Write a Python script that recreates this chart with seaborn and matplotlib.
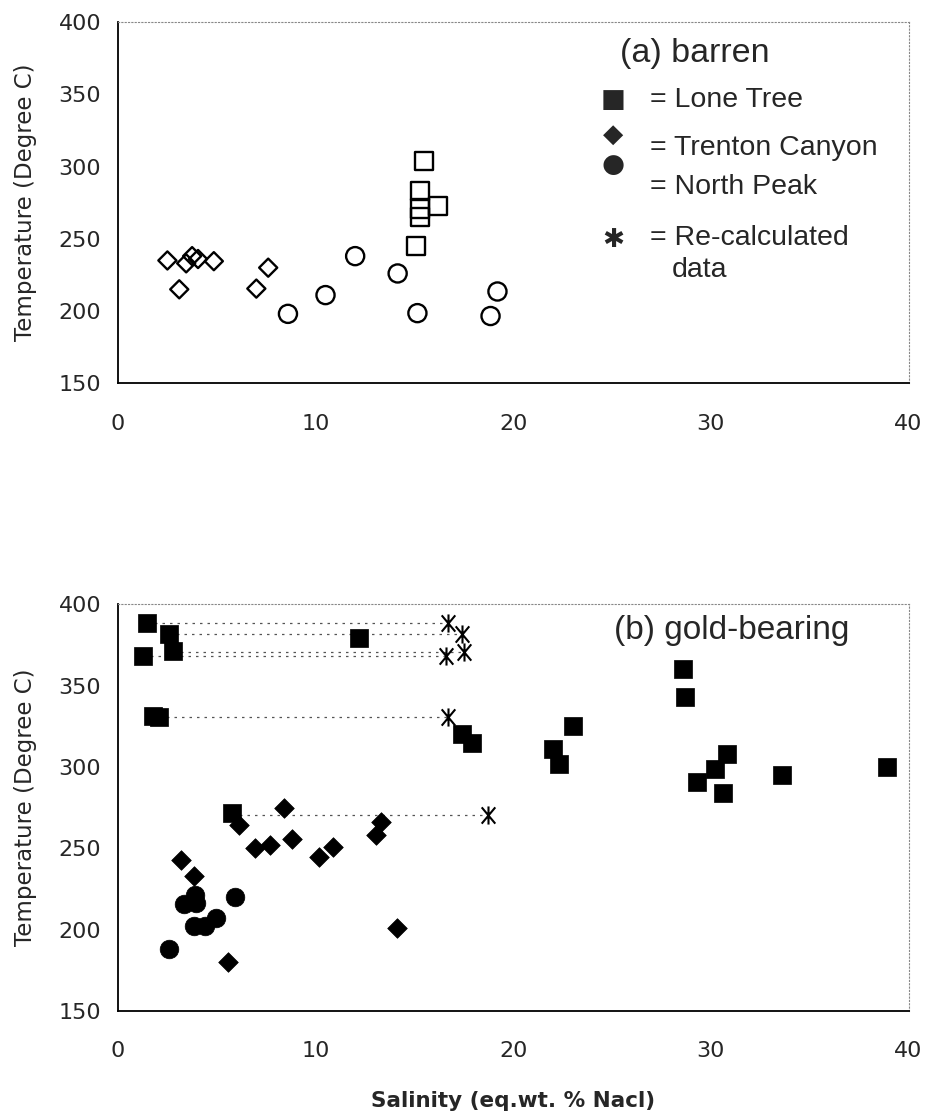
import numpy as np
import matplotlib
matplotlib.use("Agg")
import matplotlib.pyplot as plt
from matplotlib.path import Path
import seaborn as sns

# ==========================================
# data: (a) barren
# ==========================================
a_lone_sal = [15.5, 15.3, 15.3, 15.3, 16.2, 15.1]
a_lone_temp = [304, 283, 271, 265, 273, 245]

a_trenton_sal = [2.5, 3.1, 3.45, 3.75, 4.05, 4.85, 7.0, 7.6]
a_trenton_temp = [235, 215, 233, 238, 236, 234.5, 215.5, 230]

a_north_sal = [8.6, 10.5, 12.0, 14.15, 15.15, 18.85, 19.2]
a_north_temp = [198, 211, 238, 226, 198.5, 196.5, 213.5]

# ==========================================
# data: (b) gold-bearing
# ==========================================
b_lone_sal = [1.45, 2.6, 2.8, 1.25, 1.75, 2.1, 12.2, 5.75, 17.4, 17.9, 22.0,
              22.3, 23.0, 28.6, 28.7, 29.3, 30.2, 30.8, 30.6, 33.6, 38.9]
b_lone_temp = [388.5, 381.5, 371.5, 368.5, 331.5, 331, 379, 271.5, 320, 315,
               311, 302, 325, 360, 343, 291, 299, 308, 284, 295, 300]

b_trenton_sal = [3.2, 3.85, 5.55, 6.1, 6.95, 7.7, 8.4, 8.8, 10.15, 10.9,
                 13.05, 13.3, 14.1]
b_trenton_temp = [242.5, 233, 180, 264.5, 250, 252, 275, 255.5, 244.5, 250.5,
                  258, 266, 201]

b_north_sal = [2.6, 3.35, 3.9, 3.95, 3.85, 4.4, 4.95, 5.9]
b_north_temp = [188, 215.5, 221, 216.5, 202.5, 202.5, 207, 220]

# re-calculated salinities (same temperature), with original salinity
recalc_orig_sal = [1.45, 2.6, 2.8, 1.25, 2.1, 5.75]
recalc_sal = [16.7, 17.4, 17.5, 16.6, 16.7, 18.7]
recalc_temp = [388.5, 381.5, 370.5, 368, 331, 270.5]

# six-armed asterisk marker, like the spreadsheet one
STAR = Path([(0, -1), (0, 1), (-0.75, -0.9), (0.75, 0.9), (-0.75, 0.9), (0.75, -0.9)],
            [Path.MOVETO, Path.LINETO] * 3)

LEG_FONT = ["Liberation Sans", "DejaVu Sans"]

sns.set_style("white")
plt.rcParams["font.family"] = ["DejaVu Sans"]

fig = plt.figure(figsize=(9.29, 11.17), dpi=100)
ax_a = fig.add_axes([0.127, 0.657, 0.851, 0.323])
ax_b = fig.add_axes([0.127, 0.095, 0.851, 0.364])


def style_axes(ax):
    ax.set_xlim(0, 40)
    ax.set_ylim(150, 400)
    ax.set_xticks(np.arange(0, 41, 10))
    ax.set_yticks(np.arange(150, 401, 50))
    for side in ["left", "bottom"]:
        ax.spines[side].set_color("black")
        ax.spines[side].set_linewidth(1.3)
    for side in ["top", "right"]:
        ax.spines[side].set_color("#888888")
        ax.spines[side].set_linewidth(0.8)
        ax.spines[side].set_linestyle((0, (1, 2)))
    ax.tick_params(axis="both", direction="inout", length=10, width=1,
                   labelsize=16, color="black")
    ax.tick_params(axis="y", pad=7)
    ax.tick_params(axis="x", pad=17)
    ax.set_ylabel("Temperature (Degree C)", fontsize=16.5)
    ax.yaxis.set_label_coords(-0.102, 0.5)
    ax.set_xlabel("")


# ---------- (a) barren: open symbols ----------
sns.scatterplot(x=a_trenton_sal, y=a_trenton_temp, ax=ax_a, marker="D", s=85,
                facecolor="none", edgecolor="black", linewidth=1.7)
sns.scatterplot(x=a_north_sal, y=a_north_temp, ax=ax_a, marker="o", s=170,
                facecolor="none", edgecolor="black", linewidth=1.7)
sns.scatterplot(x=a_lone_sal, y=a_lone_temp, ax=ax_a, marker="s", s=170,
                facecolor="none", edgecolor="black", linewidth=1.7)
style_axes(ax_a)

ax_a.text(0.635, 0.914, "(a) barren", transform=ax_a.transAxes, fontsize=24.5,
          family=LEG_FONT, va="center")
legend_rows = [
    ("\u25A0", 0.784, "= Lone Tree", 0.784),
    ("\u25C6", 0.687, "= Trenton Canyon", 0.651),
    ("\u25CF", 0.604, "= North Peak", 0.543),
    ("\u2731", 0.396, "= Re-calculated", 0.402),
]
for glyph, gy, label, ty in legend_rows:
    ax_a.text(0.626, gy, glyph, transform=ax_a.transAxes, fontsize=19,
              family=["DejaVu Sans"], ha="center", va="center")
    ax_a.text(0.673, ty, label, transform=ax_a.transAxes, fontsize=20.5,
              family=LEG_FONT, va="center")
ax_a.text(0.700, 0.313, "data", transform=ax_a.transAxes, fontsize=20.5,
          family=LEG_FONT, va="center")

# ---------- (b) gold-bearing: filled symbols ----------
ax_b.hlines(recalc_temp, recalc_orig_sal, recalc_sal, colors="#555555",
            linestyles=(0, (2, 4)), linewidth=0.9, zorder=1)
sns.scatterplot(x=b_trenton_sal, y=b_trenton_temp, ax=ax_b, marker="D", s=100,
                color="black", edgecolor="black", linewidth=0.5, zorder=3)
sns.scatterplot(x=b_north_sal, y=b_north_temp, ax=ax_b, marker="o", s=180,
                color="black", edgecolor="black", linewidth=0.5, zorder=3)
sns.scatterplot(x=b_lone_sal, y=b_lone_temp, ax=ax_b, marker="s", s=170,
                color="black", edgecolor="black", linewidth=0.5, zorder=3)
sns.scatterplot(x=recalc_sal, y=recalc_temp, ax=ax_b, marker=STAR, s=170,
                color="black", edgecolor="black", linewidth=1.5, zorder=3)
style_axes(ax_b)
ax_b.set_xlabel("Salinity (eq.wt. % Nacl)", fontsize=15.5, fontweight="bold")
ax_b.xaxis.set_label_coords(0.5, -0.198)

ax_b.text(0.628, 0.936, "(b) gold-bearing", transform=ax_b.transAxes,
          fontsize=24, family=LEG_FONT, va="center")

fig.savefig("out.png", dpi=100)
